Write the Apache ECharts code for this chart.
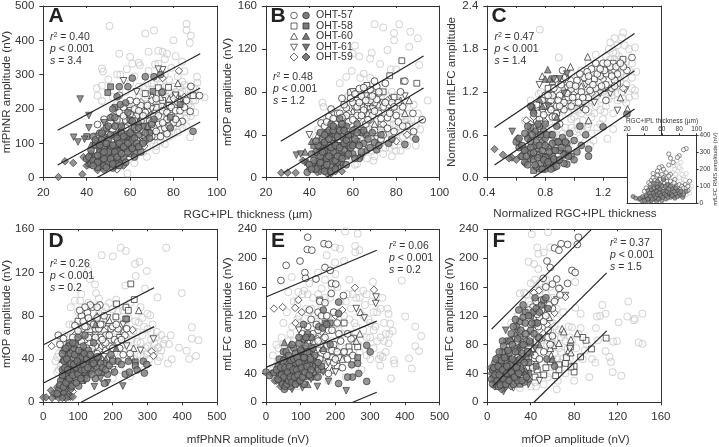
<!DOCTYPE html>
<html><head><meta charset="utf-8"><style>html,body{margin:0;padding:0;background:#fff}#c{width:719px;height:447px}</style>
<script src="https://cdn.jsdelivr.net/npm/echarts@6/dist/echarts.min.js"></script></head><body><div id="c"></div>
<script>
// Panel A: RGC+IPL thickness vs mfPhNR amplitude
const A_grey=[[50.5,442],[86,448],[86,430],[88,414],[87.5,393],[67,420],[71,429],[80,400],[55,361],[60,352],[68.5,367],[73,370],[75,367],[77,361],[81,354],[47,318],[47.5,309],[50,286],[44.6,261],[47,268],[45,239],[47,224],[54,301],[55.5,300],[58.5,316],[61,332],[64,335],[64.5,328],[68.5,311],[71.5,330],[73,332],[76,345],[79,320],[84,338],[90.8,294],[91,277],[94.3,234],[87.7,118],[58.8,12.5],[62,43],[67.7,61],[57,75],[60,90],[63,70],[65,95],[68,88],[70,110],[72,92],[74,128],[76,115],[78,135],[80,150],[82,132],[84,165],[86,150],[88,180],[66,120],[64,140],[62,125],[60,150],[58,170],[56,190],[54,215],[52,235],[58,250],[60,275],[62,295],[64,265],[66,245],[68,275],[70,255],[72,290],[74,270],[76,300],[78,285],[80,265],[82,295],[84,280],[86,255],[88,240],[90,225],[89,260],[85,310],[83,245],[81,225],[79,245],[77,215],[75,235],[73,205],[71,225],[69,195],[67,215],[65,185],[63,200],[61,175],[59,205],[72,165],[74,175],[76,190],[78,165],[80,185],[82,205],[84,215],[70,150],[68,160],[66,170],[64,108],[62,100],[60,118],[86,200],[88,205],[90,190]];
const A_greyX=[[55,120],[57,140],[59,130],[61,95],[63,150],[65,130],[67,140],[69,115],[71,140],[73,118],[75,155],[77,140],[79,170],[81,170],[83,180],[85,190],[87,215],[89,225],[91,240],[62,220],[64,235],[66,265],[68,240],[70,275],[72,250],[74,255],[76,265],[78,250],[80,240],[82,225],[84,250],[86,230],[88,250],[90,260],[77,235],[79,225],[81,250],[83,265],[85,270],[75,210],[73,225],[71,200],[69,215],[67,190],[65,160],[63,170],[61,200],[59,150],[57,110],[55,95],[53,70],[52,105],[56,80],[60,60],[66,75],[70,125],[74,105],[78,120],[82,150],[86,175],[84,145],[80,128],[76,98],[72,80]];
const A_co=[[92,239],[88,266],[87.7,193],[84,164],[82,159],[77,128],[71.5,120],[60,225],[57,205],[55,190],[52,178],[48,170],[45,155],[54,148],[58,168],[61,150],[63,180],[65,210],[67,165],[69,140],[71,180],[73,155],[75,195],[77,170],[79,205],[62,130],[58,130],[56,115],[60,105],[64,120],[66,135],[52,140],[50,125],[80,160],[74,140],[76,145],[58,70],[63,222],[55,240],[62,200],[68,128],[81,195],[59,150],[61,175],[63,140],[65,165],[67,190],[69,165],[71,145],[73,180],[75,160],[77,190],[79,180],[81,170],[83,195],[85,205],[66,105],[68,150],[70,120],[72,135],[60,185],[56,135],[53,120],[51,160],[57,180],[63,110],[78,150],[74,120],[70,160],[64,195],[82,220],[86,225],[75,250],[72,230],[68,210],[66,180],[58,145],[54,100],[62,165]];
const A_so=[[89,239],[83.5,215],[77.7,263],[81,239],[75,225],[72,205],[67,245],[70,180],[64,160],[78,210],[50,100],[54,170],[60,165],[73,262]];
const A_to=[[82,275],[78,230],[74,235],[70,240],[66,200],[62,185],[57,150],[83,230],[76,205],[68,170],[61,135],[52,155]];
const A_vo=[[57,282],[75,314],[73,316],[81,240],[70,200],[65,180],[60,195],[55,145],[48,135],[72,175],[45,120],[63,250]];
const A_do=[[82.5,311],[66.6,92],[54,24],[75,290],[70,225],[65,220],[58,160],[52,110],[60,140],[68,195],[80,230],[48,100],[56,55],[85,235]];
const A_cf=[[61,290],[67,294],[71,294],[74,300],[55,265],[59,265],[54,236],[55.5,213],[89,135],[78.5,145],[74.6,248],[40,55],[42,40],[44,62],[45,30],[46,75],[47,50],[48,90],[48,35],[49,65],[50,112],[50,45],[51,82],[52,28],[52,60],[53,95],[53,125],[54,40],[55,75],[56,105],[56,150],[57,58],[58,85],[58,125],[59,190],[60,70],[61,110],[62,145],[63,90],[64,125],[65,75],[67,108],[69,130],[71,170],[47,110],[44,95],[46,130],[42,80],[51,175],[52,200],[49,145],[58,218],[43,120],[60,168],[41,60],[43,50],[44,110],[45,45],[46,95],[47,70],[47,130],[48,55],[49,100],[49,30],[50,75],[51,55],[51,125],[52,95],[52,40],[53,75],[53,150],[54,60],[54,115],[55,35],[55,100],[56,70],[56,130],[57,90],[57,120],[58,45],[59,100],[59,75],[60,130],[61,85],[61,165],[62,60],[62,115],[63,100],[64,90],[64,145],[66,100],[67,130],[69,115],[70,155],[45,65],[48,75],[43,35],[50,150],[53,175]];
const A_sf=[[49.7,248],[51,265],[70.5,251],[78.5,176],[40,120],[44,105],[48,118],[52,72],[55,90],[50,60],[46,40],[58,105],[62,72],[66,150],[53,205],[83,213],[45,100],[47,88],[50,88],[52,85],[55,55],[56,88],[59,120],[61,125],[48,50],[54,80],[42,58],[44,48]];
const A_tf=[[42,95],[60,95],[55,135],[50,92],[64,165],[46,60],[53,55],[68,150]];
const A_vf=[[37,229],[41,181],[41,145],[34,118],[36,104],[39,112],[48,160],[52,45],[45,85]];
const A_df=[[27,2],[30,48],[33.8,43],[38,10],[40,35],[38.5,60],[42,70],[44,40],[45,22],[47,30],[41,48],[50,35],[55,120],[49,80],[43,55],[46,50],[48,22],[51,40],[53,32],[55,45],[57,35],[41,38],[60,85]];
const A_lines=[[[26.6,138],[92.3,361]],[[26.6,37],[92.3,261]],[[44.6,0],[92.3,162]]];
// Panel B: RGC+IPL thickness vs mfOP amplitude
const B_grey=[[70,143],[74,140],[81.4,143],[79,135],[86.5,136],[79,128],[90,130],[61,123],[60,115.6],[63,113],[68.7,116.5],[68,111],[76,119],[86,122],[72.6,106],[90.6,105],[77.5,101],[80,101],[59.5,99.6],[57,94],[54,88],[65,97],[63.4,93],[68,93],[46,70],[46.5,66],[94.5,72],[69.5,16],[66.5,18],[61,12],[62,13],[44,45],[43,38],[42,33],[46,50],[48,55],[50,30],[52,42],[54,50],[55,62],[57,22],[58,35],[59,48],[60,58],[61,68],[62,28],[63,40],[64,52],[65,72],[66,34],[67,46],[68,60],[69,25],[70,40],[71,52],[72,65],[73,32],[74,44],[75,56],[76,76],[77,28],[78,38],[79,50],[80,62],[81,34],[82,45],[83,57],[84,70],[85,30],[86,42],[87,54],[88,38],[89,48],[90,60],[91,45],[56,70],[58,76],[62,78],[66,82],[70,80],[74,84],[78,80],[82,78],[70,32],[74,22],[78,20],[82,25],[65,24],[55,30],[51,20],[49,40],[47,30],[52,60],[58,62],[60,18],[64,62],[68,45],[72,38],[76,45],[80,42],[84,52],[86,60],[88,68],[75,36],[63,50],[67,30],[60,42],[56,40]];
const B_greyX=[[50,25],[53,35],[55,45],[57,55],[59,30],[61,25],[63,30],[65,40],[67,55],[69,48],[71,30],[73,48],[75,42],[77,50],[79,30],[81,48],[83,38],[85,55],[87,40],[89,30],[62,62],[66,58],[70,68],[74,60],[78,55],[82,62],[86,50],[80,25],[75,28],[70,20],[64,20],[58,18],[54,24],[48,24],[46,42],[44,30],[72,45],[76,62],[69,72],[73,74],[66,66],[60,50],[68,36],[84,44],[77,68],[80,72],[63,66],[56,54]];
const B_co=[[92,54],[87.7,60],[88,43],[75,88],[71,85],[63,83],[55,74],[50,64],[45.4,51],[47,48],[49,57],[52,50],[53,60],[55,47],[57,65],[58,52],[60,70],[61,45],[62,58],[64,76],[65,63],[66,50],[67,70],[68,82],[69,58],[70,44],[71,73],[72,60],[73,36],[74,66],[76,56],[78,70],[79,43],[80,58],[82,80],[83,66],[84,90],[85,48],[68,72],[58,40],[51,44],[48,52],[51,55],[54,60],[56,68],[59,74],[61,78],[62,66],[65,84],[66,72],[67,54],[69,76],[70,62],[72,80],[73,55],[75,70],[76,46],[77,60],[79,66],[81,52],[57,58],[53,46],[63,70],[60,54],[65,42],[74,40],[81,70],[83,48],[70,90],[64,58],[55,56]];
const B_so=[[82.6,109],[89.5,88],[77,95],[66.5,86],[59,79.5],[64,66],[83.4,90],[70,78],[74,80],[79,75],[68,66],[62,72],[73,50]];
const B_to=[[84,60],[82,72],[77,74],[65,78],[72,68],[60,62],[56,56],[67,60],[86,72],[70,50],[44,40]];
const B_vo=[[40,40],[66,76],[60,80],[74,70],[78,62],[64,44],[56,36],[71,36],[48,42],[84,76],[69,64]];
const B_do=[[46,38],[58,60],[63,56],[68,54],[74,50],[80,34],[52,32],[61,66],[76,72],[85,40],[72,78]];
const B_cf=[[89,36],[84,31],[76.5,32],[71,26],[39,5],[42,16],[43,24],[44,10],[45,20],[45,30],[46,36],[46,14],[47,6],[47,25],[48,42],[48,18],[49,30],[50,10],[50,50],[51,24],[51,38],[52,16],[53,45],[53,30],[54,55],[54,20],[55,38],[56,26],[57,48],[57,12],[58,30],[60,22],[61,36],[62,50],[63,18],[65,32],[66,40],[68,28],[73,40],[78,36],[70,33],[64,42],[55,50],[49,44],[41,22],[52,40],[43,8],[44,30],[45,14],[46,24],[47,33],[48,12],[49,20],[49,36],[50,28],[50,6],[51,44],[52,30],[52,8],[53,20],[53,38],[54,28],[54,44],[55,18],[56,32],[56,44],[57,35],[58,22],[58,40],[59,28],[60,30],[60,44],[61,18],[62,42],[63,30],[64,24],[65,44],[67,36],[69,42],[72,30],[45,42],[43,34],[40,12],[41,8],[47,40],[51,48]];
const B_sf=[[44,18],[46,8],[48,28],[50,40],[52,24],[54,14],[55,30],[57,20],[59,40],[42,30],[47,15],[62,34],[45,25],[48,8],[49,24],[51,32],[53,10],[55,22],[56,46],[58,36],[46,30],[50,18]];
const B_tf=[[38,24],[41,34],[48,36],[52,12],[56,34],[60,32],[44,26],[66,26]];
const B_vf=[[34,21],[36,22],[38,14],[64,19],[43,12],[47,20],[50,16],[55,12],[58,26]];
const B_df=[[27,4.6],[30,4.6],[33.7,4.6],[39.5,13],[43.7,5],[48,4],[46,10],[42,8],[37,16],[49,8],[51,14],[44,12],[45,6],[47,10],[50,4],[52,6],[53,14],[42,14],[40,8],[55,6],[46,18]];
const B_lines=[[[26.8,34],[92.6,113.5]],[[28,4.6],[92.6,83.5]],[[47.7,0],[92.6,55]]];
// Panel C: normalized thickness vs normalized mfLFC
const C_grey=[[.763,2.07],[.894,1.68],[1.34,2.03],[1.33,1.96],[1.25,1.89],[1.42,1.82],[.70,1.08],[1.135,.52],[1.11,.45],[1.23,.545],[1.27,.68],[1.42,1.22],[1.42,1.15],[.756,1.17],[.77,1.2],[1.29,1.74],[1.27,1.75],[1.31,1.7],[1.35,1.85],[1.38,1.8],[1.4,1.6],[1.43,1.48],[1.4,1.4],[1.36,1.3],[1.32,1.45],[1.3,1.55],[1.25,1.65],[1.22,1.7],[1.2,1.5],[1.18,1.35],[1.16,1.55],[1.13,1.4],[1.1,1.2],[1.08,1.05],[1.05,.9],[1.02,.78],[1.0,.65],[.97,.5],[.95,.4],[.92,.3],[.9,.45],[.88,.6],[.85,.7],[.82,.52],[.8,.36],[1.0,.95],[1.03,1.15],[1.06,1.32],[1.09,.7],[1.12,.85],[1.15,1.0],[1.18,.75],[1.21,.92],[1.24,1.1],[1.27,.9],[1.3,1.08],[1.33,1.2],[1.36,1.05],[1.2,1.2],[1.25,1.3],[1.28,1.4],[1.15,1.2],[1.12,1.08],[1.1,.92],[1.06,.65],[1.04,.55],[.94,.7],[.98,.82],[.9,.85],[.85,.95],[.82,1.05],[.78,.85],[.75,.95],[.72,1.0],[.92,1.2],[.95,1.35],[.88,1.3],[.98,1.45],[1.0,1.3],[1.05,1.5],[1.1,1.6],[1.15,1.72],[.68,.7],[.66,.8]];
const C_greyX=[[1.0,1.0],[1.03,.95],[1.07,1.1],[1.1,1.05],[1.13,1.2],[1.16,1.15],[1.19,1.1],[1.22,1.22],[1.26,1.15],[1.29,1.28],[1.32,1.35],[1.35,1.4],[1.38,1.5],[1.36,1.62],[1.32,1.62],[1.28,1.65],[1.24,1.8],[1.3,1.85],[1.28,1.95],[1.26,1.2],[1.3,1.18],[1.34,1.1],[1.38,1.12],[1.4,1.25],[1.22,1.0],[1.18,.95],[1.14,.9],[1.1,.75],[1.06,.8],[1.03,.68],[.98,.7],[.95,.6],[.92,.62],[.9,.55],[.88,.4],[.86,.6],[.84,.45],[.83,.75],[.8,.7],[.78,.6],[.76,.7],[.74,.58],[1.08,1.25],[1.12,1.35],[1.16,1.42],[1.2,1.42],[1.24,1.45],[1.27,1.5],[1.05,.72],[1.0,.85],[.96,.9],[1.12,.62],[1.16,.7],[1.2,.82]];
const C_co=[[1.4,1.68],[1.365,1.5],[1.3,1.45],[1.28,1.36],[1.25,1.55],[1.22,1.3],[1.2,1.6],[1.18,1.42],[1.15,1.25],[1.12,1.52],[1.1,1.35],[1.07,1.4],[1.05,1.2],[1.02,1.36],[1.0,1.05],[.98,1.24],[.96,1.12],[.94,1.4],[.93,.95],[.9,1.15],[.88,1.0],[.86,1.25],[.84,1.08],[.82,.92],[.8,1.15],[.78,.95],[.76,.82],[.74,1.02],[.72,.7],[.85,.85],[.9,.75],[1.08,.95],[1.22,1.08],[1.26,1.25],[1.34,1.55],[.92,1.5],[.87,1.38],[1.15,1.6],[.75,.9],[.78,1.08],[.8,1.0],[.83,.98],[.85,1.15],[.87,.85],[.89,1.08],[.91,1.3],[.93,1.05],[.95,1.18],[.97,1.3],[.99,1.12],[1.01,1.28],[1.03,1.05],[1.04,1.45],[1.06,1.12],[1.09,1.48],[1.11,1.22],[1.13,1.3],[1.16,1.45],[1.19,1.28],[1.21,1.5],[1.23,1.6],[1.26,1.42],[1.29,1.55],[1.32,1.6],[.79,.88],[.84,.95],[.9,1.0],[.98,1.0],[.82,1.15],[.77,.75],[1.1,1.42],[1.18,1.52],[1.28,1.28]];
const C_so=[[1.338,1.655],[1.27,1.6],[1.22,1.45],[1.1,1.12],[1.0,1.2],[.95,1.0],[.88,.9],[.82,1.25],[.74,.8],[1.3,1.32],[1.14,1.38],[.7,.6]];
const C_to=[[1.094,1.69],[.975,1.55],[1.37,.96],[.92,1.38],[1.05,1.28],[.85,1.35],[.78,1.42],[1.2,1.25],[1.1,.8],[1.32,1.12],[.8,1.06]];
const C_vo=[[1.354,1.225],[1.3,.94],[1.18,1.18],[1.08,1.3],[.95,1.25],[.84,1.15],[1.05,.98],[.76,1.3],[1.25,1.18],[.9,.95],[1.14,1.05]];
const C_do=[[.67,.8],[.72,.85],[.98,1.36],[1.02,1.22],[1.12,1.18],[1.28,1.5],[.86,1.1],[.94,1.1],[.8,.78],[1.2,1.38],[1.34,1.25],[.7,.75]];
const C_cf=[[.95,.19],[1.2,.71],[1.365,.89],[.6,.5],[.62,.42],[.64,.3],[.66,.22],[.68,.55],[.7,.35],[.7,.5],[.72,.25],[.73,.45],[.74,.15],[.75,.6],[.76,.32],[.77,.2],[.78,.5],[.79,.65],[.8,.28],[.8,.12],[.82,.42],[.83,.18],[.84,.6],[.85,.3],[.86,.14],[.87,.5],[.88,.72],[.89,.24],[.9,.38],[.92,.56],[.93,.2],[.95,.48],[.97,.62],[.98,.3],[1.0,.25],[1.04,.72],[1.08,.6],[1.1,.4],[.7,1.0],[.72,.9],[.76,.72],[.73,.65],[.66,.62],[.8,.55],[1.05,.45],[1.0,.52],[.62,.55],[.64,.45],[.66,.38],[.67,.3],[.68,.18],[.7,.42],[.71,.6],[.72,.35],[.73,.18],[.74,.5],[.75,.28],[.76,.45],[.77,.6],[.78,.38],[.78,.12],[.79,.25],[.8,.45],[.81,.6],[.82,.22],[.83,.36],[.84,.12],[.85,.48],[.86,.26],[.87,.38],[.88,.16],[.89,.5],[.9,.25],[.91,.42],[.93,.32],[.94,.5],[.96,.3],[.75,.75],[.7,.7],[.68,.72],[.8,.75],[.85,.6],[.96,.4],[1.02,.36],[1.1,.3]];
const C_sf=[[.71,.98],[.75,.4],[.78,.3],[.82,.3],[.84,.22],[.68,.4],[.86,.38],[.9,.5],[.72,.1],[.94,.34],[.76,.12]];
const C_tf=[[.818,1.51],[.8,1.38],[.83,1.38],[.72,.95],[.68,.6],[.76,1.1],[.88,.85],[.78,1.0]];
const C_vf=[[.572,.647],[.86,1.38],[.9,1.38],[.82,1.0],[.7,.28],[.8,.18],[.93,1.18],[.95,1.45],[.65,.35]];
const C_df=[[.45,.4],[.508,.32],[.57,.28],[.6,.25],[.63,.3],[.55,.27],[.66,.2],[.61,.55],[.72,.3],[.69,.26],[.62,.48]];
const C_lines=[[[.45,.70],[1.418,2.016]],[[.45,.176],[1.418,1.494]],[[.715,0],[1.418,.96]]];
// Panel D: mfPhNR vs mfOP
const D_grey=[[354,143],[223,143],[238,140],[168,136],[200,135],[264,128],[277,130],[298,121.5],[266,117],[130,122],[135,114],[149,109],[152,101],[399,101],[329,97],[236,108],[293,105],[79,88],[91,94],[106,94],[109,100],[428,69.5],[428,59],[447,57.5],[391,50.5],[413,47.7],[440,43],[420,40],[370,40],[359,36],[367,62],[362,54],[346,54],[332,51],[327,65],[308,80.6],[35,38],[40,28],[45,45],[50,34],[55,50],[60,22],[65,42],[70,60],[75,30],[80,52],[85,72],[90,20],[95,40],[100,62],[105,78],[110,28],[115,50],[120,68],[125,86],[130,36],[135,56],[140,76],[145,24],[150,44],[155,64],[160,82],[165,30],[170,50],[175,70],[180,88],[185,36],[190,58],[195,76],[200,22],[205,46],[210,66],[215,84],[220,30],[225,52],[230,72],[235,40],[240,60],[245,78],[250,24],[255,46],[260,66],[265,34],[270,56],[275,74],[280,44],[285,62],[290,30],[295,50],[300,68],[305,40],[310,58],[315,72],[320,48],[325,60],[330,38],[335,42],[340,62],[300,82],[280,88],[250,92],[210,95],[190,92],[160,96],[130,92],[120,82],[100,84],[75,72],[60,62],[48,55]];
const D_greyX=[[40,42],[50,55],[60,40],[70,48],[80,30],[90,45],[100,35],[110,58],[120,30],[130,55],[140,30],[150,56],[160,35],[170,65],[180,40],[190,70],[200,52],[210,38],[220,62],[230,48],[240,70],[250,50],[260,40],[270,65],[280,55],[290,70],[300,52],[310,65],[320,55],[330,50],[340,48],[350,58],[300,45],[290,42],[255,58],[215,75],[180,78],[145,70],[115,60],[95,52],[85,62],[65,50],[55,36],[60,30],[45,30],[75,42],[85,22],[100,22],[120,45],[140,65],[170,84],[200,86],[230,85],[265,75],[285,78]];
const D_co=[[43,62],[58,59],[48,53.5],[91,71],[163,90],[142,88],[127,83],[110,80],[125,70],[140,60],[155,78],[170,72],[180,62],[195,68],[205,58],[220,50],[235,62],[250,45],[120,58],[105,52],[95,58],[85,48],[130,45],[150,52],[165,40],[180,48],[200,40],[215,68],[112,68],[135,75],[150,68],[165,60],[190,52],[230,44],[75,52],[145,40],[120,42],[85,60],[100,66],[115,75],[130,78],[145,72],[160,68],[175,80],[190,62],[200,70],[215,56],[225,58],[240,68],[130,60],[110,56],[95,48],[120,70],[150,60],[165,72],[180,55],[200,50],[140,50],[125,50],[105,42],[155,45],[170,58],[210,72],[135,90],[155,88],[120,88],[105,85]];
const D_so=[[252,109.5],[262,95],[211,91],[238,88],[245,85],[209,79],[237,77],[75,52],[100,75],[135,62],[180,68],[220,60]];
const D_to=[[275,85],[155,80],[230,66],[260,50],[105,68],[190,76],[140,48],[165,52],[255,42]];
const D_vo=[[317,58.5],[280,48],[230,72],[185,78],[150,62],[175,42],[120,48],[200,30],[145,30],[240,52]];
const D_do=[[257,67],[312,47],[317,43],[24,52],[175,66],[210,55],[125,38],[160,48],[90,62],[70,28],[60,15],[85,10]];
const D_cf=[[291,27],[288,38],[236,26],[248,28],[298,35],[176,17.5],[50,20],[55,30],[60,38],[65,25],[70,45],[72,18],[75,35],[80,28],[85,40],[88,50],[92,22],[95,32],[100,42],[102,15],[105,25],[110,38],[115,52],[118,28],[122,35],[125,22],[130,48],[135,30],[140,40],[145,55],[150,22],[155,32],[160,42],[168,28],[175,36],[185,26],[195,44],[205,28],[215,38],[60,48],[45,12],[75,55],[100,60],[120,62],[165,36],[40,8],[48,16],[55,25],[58,14],[62,32],[65,18],[68,40],[70,30],[72,52],[75,22],[78,45],[80,36],[82,15],[85,25],[88,35],[90,44],[92,54],[95,18],[98,38],[100,26],[102,48],[105,34],[108,22],[110,30],[112,42],[115,35],[118,45],[120,30],[125,40],[128,32],[135,44],[140,26],[145,36],[155,42],[160,28],[170,32],[180,30],[190,34],[200,38],[225,35],[245,38],[270,30],[55,45],[65,50],[85,55]];
const D_sf=[[265,37.5],[265,34],[240,77],[55,22],[68,35],[80,20],[98,28],[112,20],[130,28],[150,38],[85,30],[110,46],[60,28],[75,30],[90,28],[100,36],[110,26],[125,26],[140,34],[78,14],[62,10]];
const D_tf=[[70,42],[68,48],[92,46],[125,44],[180,40],[55,40],[210,50],[150,72]];
const D_vf=[[229,15],[147,14.5],[70,15],[62,24],[90,35],[108,32],[165,22],[185,18],[120,20]];
const D_df=[[0,4.6],[8,4.6],[22,11],[35,6],[45,4],[50,8],[60,5],[70,8],[78,5],[40,14],[30,8],[65,12],[55,14],[25,4],[42,8],[58,9],[72,5],[65,4],[85,5],[55,4],[48,12],[80,12]];
const D_lines=[[[2,53.5],[319,106]],[[2,18],[319,70]],[[109,0],[312,34.5]]];
// Panel E: mfPhNR vs mfLFC
const E_grey=[[228,237],[264,234],[391,169],[308,167],[401,119],[430,105],[447,92],[430,78],[441,71],[412,61],[420,47],[360,33],[368,58.6],[370,54],[353,82],[353,123],[365,99],[358,109],[336,63],[329,51],[74,174],[93,153],[64,153],[175,204],[199,215],[213,213],[199,194],[225,196],[257,217],[269,211],[257,208],[36,75],[20,65],[25,35],[30,80],[35,55],[40,30],[45,90],[50,110],[55,60],[60,125],[65,85],[70,40],[75,105],[80,140],[85,70],[90,22],[95,120],[100,90],[105,150],[110,55],[115,130],[120,100],[125,165],[130,75],[135,145],[140,40],[145,115],[150,180],[155,90],[160,135],[165,60],[170,170],[175,110],[180,30],[185,145],[190,85],[195,125],[200,50],[205,160],[210,100],[215,140],[220,70],[225,120],[230,35],[235,150],[240,95],[245,130],[250,60],[255,110],[260,145],[265,80],[270,125],[275,45],[280,100],[285,135],[290,65],[295,115],[300,90],[305,140],[310,75],[315,105],[320,125],[325,60],[330,90],[335,145],[340,110],[345,70],[350,130],[355,95],[330,130],[280,155],[240,170],[200,178],[160,158],[120,150],[90,115],[75,70],[300,110]];
const E_greyX=[[20,45],[30,50],[40,60],[50,30],[60,45],[70,65],[80,50],[90,80],[100,60],[110,100],[120,70],[130,110],[140,85],[150,60],[160,100],[170,85],[180,120],[190,110],[200,80],[210,125],[220,95],[230,75],[240,115],[250,85],[260,105],[270,70],[280,120],[290,90],[300,60],[310,100],[320,85],[330,65],[340,85],[345,95],[50,80],[70,95],[90,135],[110,155],[130,130],[150,150],[170,145],[190,160],[230,140],[250,150],[270,145],[290,150],[310,125],[60,70],[80,85],[100,110],[120,125],[140,120],[160,115],[180,80],[200,100],[220,110]];
const E_co=[[120,229],[167,220],[180,219],[119,212],[132,211],[58,190],[98,196],[112,180],[114,172],[144,171],[43,169],[170,187],[185,183],[189,165],[201,164],[188,151],[223,148],[155,140],[170,138],[125,128],[150,125],[195,125],[150,100],[165,88],[180,100],[195,80],[210,95],[225,70],[245,88],[175,65],[130,70],[130,115],[145,108],[160,120],[175,120],[190,100],[205,110],[215,85],[235,95],[165,72],[150,85],[135,95],[120,105],[105,95],[110,70],[125,62],[140,55],[155,60],[170,90],[190,72],[205,70],[220,48],[235,60],[250,65],[160,45],[180,40],[195,55],[145,35],[200,60]];
const E_so=[[252,89],[239,77],[264,77],[155,142],[225,110],[175,78],[190,62],[210,62],[145,62],[120,82],[205,50],[240,70]];
const E_to=[[272,125],[270,95],[110,88],[127,78],[260,85],[200,75],[170,62],[220,60],[145,48],[190,45],[125,50],[140,85]];
const E_vo=[[317,146],[316,137],[283,117],[260,130],[130,90],[180,55],[200,42],[95,100],[225,68],[150,72],[100,58]];
const E_do=[[256,159],[23,130],[48,132],[93,142],[84,131],[103,125],[311,156],[160,98],[148,88],[135,58],[170,50],[85,110],[220,128],[200,120]];
const E_cf=[[0,42],[10,37],[23,41],[50,70],[108,108],[209,123],[209,139],[165,128],[152,105],[163,103],[290,79],[300,70],[264,54],[247,52],[267,40],[249,35],[235,35],[209,26],[290,29],[53,18],[35,50],[40,38],[45,28],[50,45],[55,60],[60,32],[65,48],[70,22],[75,40],[80,75],[85,55],[90,30],[95,82],[100,45],[105,62],[110,25],[115,78],[120,38],[125,52],[130,90],[140,65],[150,35],[160,50],[175,108],[120,95],[185,80],[60,55],[30,45],[35,32],[38,60],[42,48],[45,38],[48,25],[50,58],[52,35],[55,22],[55,48],[58,70],[60,25],[62,42],[65,30],[65,65],[68,50],[70,35],[72,58],[75,28],[75,80],[78,45],[80,60],[82,35],[85,25],[85,68],[88,45],[90,62],[92,38],[95,55],[98,30],[100,72],[102,48],[105,35],[108,88],[110,62],[112,42],[115,90],[118,50],[120,70],[125,38],[128,60],[130,45],[135,75],[150,55],[95,90]];
const E_sf=[[185,110],[264,62],[170,110],[100,70],[75,60],[110,48],[130,35],[145,55],[90,50],[55,40],[115,60],[80,30],[125,70],[70,55],[85,42],[95,45],[105,55],[120,45],[135,50],[60,35],[110,35],[150,45],[65,40]];
const E_tf=[[53,83],[95,35],[120,25],[140,42],[70,80],[105,75],[40,50],[165,75]];
const E_vf=[[231,16],[148,22],[180,29],[75,18],[105,20],[60,38],[130,32],[165,42],[90,25]];
const E_df=[[30,30],[42,22],[55,28],[68,30],[100,30],[120,55],[15,40],[82,42],[35,38],[48,32],[60,30],[72,40],[88,30],[110,50],[25,30],[45,45],[135,60]];
const E_lines=[[[0,146],[319,211]],[[0,48.5],[319,112.6]],[[250,0],[319,14]]];
// Panel F: mfOP vs mfLFC
const F_grey=[[41,233],[56,236],[46,215],[47,206],[52,208],[58,215],[38,195],[47,185],[43,192],[81,167],[30,151],[34,152],[130,140],[106,135],[109,123],[101,119],[104,120],[143,123],[136,116],[135,114],[129,119],[121,111],[100,103],[139.5,83],[143,81],[119.5,85],[116,84],[109,71],[112.5,63],[114,56],[115.6,42],[123.5,37],[96.5,60],[99.6,55],[94,35],[86,123],[81,131],[86,103],[78,104],[102,86],[64,18],[15,40],[18,60],[20,85],[22,30],[24,105],[26,50],[28,72],[30,20],[32,95],[34,120],[36,42],[38,65],[40,135],[42,88],[44,28],[46,110],[48,155],[50,55],[52,78],[54,130],[56,35],[58,100],[60,145],[62,68],[64,115],[66,50],[68,90],[70,125],[72,40],[74,75],[76,60],[78,85],[80,30],[44,170],[48,165],[36,125],[30,110],[24,78],[50,120],[55,80],[60,60],[65,30],[70,95],[75,105],[58,72],[62,88],[66,75],[52,25],[46,40],[40,22],[34,75],[28,42],[20,48],[92,80],[88,60],[82,75],[84,95],[90,72],[54,150],[42,150],[38,140],[60,110]];
const F_greyX=[[12,30],[16,55],[18,28],[20,70],[22,110],[24,45],[26,88],[28,55],[30,95],[32,35],[34,55],[36,105],[38,85],[40,50],[42,110],[44,75],[46,95],[48,60],[50,105],[52,135],[54,65],[56,115],[58,40],[60,90],[62,105],[64,60],[66,100],[68,70],[70,60],[72,85],[74,55],[76,90],[40,165],[44,155],[50,165],[54,170],[58,160],[36,150],[32,130],[28,120],[48,135],[56,145],[64,130],[35,35],[45,22],[38,30],[30,58],[25,62],[42,60],[52,95],[60,80],[56,60],[68,55],[64,45]];
const F_co=[[84,229],[83,219],[74,219],[68,220],[62,214],[66,211],[55,196],[58,187],[78,183],[81,180],[64,171],[74,165],[51.5,172],[60,164],[67,149],[45,140],[42,132],[38,128],[48,118],[52,112],[56,100],[40,90],[34,80],[44,65],[58,80],[28,62],[36,48],[52,70],[60,130],[50,142],[46,122],[50,128],[54,120],[57,135],[44,108],[48,88],[40,108],[36,95],[32,72],[38,70],[30,50],[48,60],[42,48],[26,35],[34,42],[56,90],[60,92],[62,140],[66,158],[54,160],[47,105],[28,85],[22,40],[18,48],[35,55]];
const F_so=[[109.5,89],[96,74],[91,86],[88,90],[86,63],[80,42],[80,50],[77,49],[76.6,77],[73,62],[72,54],[66,52],[63,37],[52,38],[44,35],[66,45],[58,56],[46,45],[54,48],[38,60]];
const F_to=[[83,95.5],[69,102],[70.5,98],[77,87],[66,82],[61,79],[58,75],[59,65],[75,72],[77,69],[50,90],[42,75],[32,50],[57,118]];
const F_vo=[[72,148],[64,142],[50,140],[46,128],[44,52],[30,38],[48,30],[38,42],[76,74],[55,130],[24,20]];
const F_do=[[47.5,155],[43,152],[67,158],[72,146],[55,108],[48,100],[62,124],[35,70],[40,55],[20,45],[30,75],[52,118]];
const F_cf=[[5,45],[6,35],[7,55],[8,28],[9,42],[10,62],[10,22],[12,50],[13,35],[14,70],[15,25],[16,45],[17,58],[18,85],[19,32],[20,68],[21,52],[22,95],[23,40],[24,25],[25,75],[26,58],[27,105],[28,30],[30,90],[31,45],[32,68],[33,118],[34,28],[36,85],[38,55],[40,100],[42,125],[44,145],[46,110],[50,135],[52,142],[54,145],[56,130],[47,90],[35,110],[29,128],[33,135],[14,85],[55,60],[62,50],[4,32],[5,25],[6,48],[7,38],[8,60],[9,30],[10,50],[11,38],[11,70],[12,24],[13,58],[14,45],[15,32],[15,78],[16,62],[17,25],[18,50],[18,40],[19,72],[20,30],[21,85],[22,42],[23,60],[24,105],[25,35],[26,70],[27,48],[28,88],[29,40],[30,60],[31,100],[32,30],[33,80],[34,55],[35,95],[36,35],[37,70],[39,85],[41,110],[43,95],[45,130],[48,125],[38,120],[26,115],[23,80]];
const F_sf=[[12,40],[17,35],[22,50],[28,70],[30,25],[38,40],[30,112],[40,120],[26,42],[20,60],[35,125],[45,50],[8,40],[11,55],[14,35],[18,62],[20,42],[24,55],[28,50],[32,42],[36,60],[40,82],[16,48],[44,110]];
const F_tf=[[22,88],[30,80],[26,95],[48,80],[60,60],[40,70],[14,55],[35,45]];
const F_vf=[[17,100],[14,22],[15,15],[25,30],[32,58],[44,75],[20,28],[38,25],[10,30]];
const F_df=[[4,40],[6,30],[9,50],[12,28],[16,20],[20,38],[25,48],[30,55],[35,38],[18,72],[28,100],[3,48],[7,22],[11,32],[14,62],[18,30],[22,22],[27,34],[32,78],[38,32],[13,18]];
const F_lines=[[[4,101.5],[96,240]],[[5,22],[110,179.5]],[[43,0],[110,99]]];
// Inset: thickness vs mfLFC RMS amplitude
const I_grey=[[74,220],[78,190],[82,200],[85,160],[88,175],[80,150],[76,170],[72,130],[84,120],[90,95],[94,100],[86,80],[78,60],[70,50],[88,50],[92,60],[75,85],[68,80],[82,240],[77,250],[72,180],[75,200],[78,220],[80,210],[83,170],[85,140],[87,135],[90,120],[92,85],[80,90],[75,115],[82,55],[70,140],[68,120]];
const I_open=[[88,322],[85,315],[68,290],[80,280],[70,265],[78,270],[73,240],[68,225],[60,215],[57,210],[55,190],[62,200],[65,180],[50,175],[53,150],[58,160],[48,135],[45,120],[42,90],[60,130],[65,150],[70,170],[75,140],[52,115],[57,105],[62,90],[67,110],[72,95],[77,105],[82,85],[87,110],[92,130],[90,75],[85,60],[80,70],[72,65],[65,70],[55,75],[50,85],[40,70],[55,165],[58,140],[60,170],[62,150],[63,120],[66,130],[68,160],[70,130],[72,110],[74,120],[76,85],[78,100],[80,110],[83,100],[85,90],[88,90],[90,100],[60,105],[55,110],[50,150],[47,110],[52,135]];
const I_dark=[[27,40],[30,30],[34,25],[37,15],[40,35],[42,20],[44,50],[45,10],[46,30],[48,60],[48,15],[50,40],[52,70],[52,25],[54,100],[54,12],[56,50],[57,80],[58,30],[60,60],[60,15],[62,45],[64,75],[65,25],[66,110],[68,50],[70,35],[72,85],[74,40],[76,55],[78,75],[80,45],[84,35],[88,70],[44,75],[47,95],[50,120],[55,130],[58,110],[62,140],[35,30],[38,40],[40,15],[42,45],[44,25],[46,60],[47,40],[48,80],[49,25],[50,60],[51,90],[52,45],[53,35],[54,70],[55,50],[55,95],[56,25],[57,60],[58,85],[59,45],[60,100],[61,35],[62,70],[63,55],[64,100],[65,45],[66,70],[67,35],[68,85],[69,60],[70,100],[71,55],[72,45],[74,70],[75,30],[76,90],[78,40],[80,60],[82,70],[85,50]];
// Legend and statistics text
const legendLabels=['OHT-57','OHT-58','OHT-60','OHT-61','OHT-59'];
const panelLetters=['A','B','C','D','E','F'];
const r2Values=['0.40','0.48','0.47','0.26','0.06','0.37'];
const sValues=['3.4','1.2','1.4','0.2','0.2','1.5'];
const pText='< 0.001';

const font='"Liberation Sans",Arial,sans-serif', ink='#333';
const shapeOf=[['circle',0,6.8],['rect',0,5.8],['triangle',0,6.6],['triangle',180,6.6],['diamond',0,7.4]];
const greyStyle={color:'rgba(0,0,0,0)',borderColor:'#cbcbcb',borderWidth:1};
const openStyle={color:'#fff',borderColor:'#262626',borderWidth:.9};
const fillStyle={color:'#7b7b7b',borderColor:'#2e2e2e',borderWidth:.8};

const panels=[
 {box:[43.3,4.7],xr:[20,100,20],yr:[0,500,100],grey:A_grey.concat(A_greyX),open:[A_so,A_to,A_vo,A_do,A_co],fill:[A_sf,A_tf,A_vf,A_df,A_cf],lines:A_lines},
 {box:[266,4.7],xr:[20,100,20],yr:[0,160,40],grey:B_grey.concat(B_greyX),open:[B_so,B_to,B_vo,B_do,B_co],fill:[B_sf,B_tf,B_vf,B_df,B_cf],lines:B_lines},
 {box:[487.3,4.7],xr:[.4,1.6,.2],yr:[0,2.4,.6],grey:C_grey.concat(C_greyX),open:[C_so,C_to,C_vo,C_do,C_co],fill:[C_sf,C_tf,C_vf,C_df,C_cf],lines:C_lines},
 {box:[43.3,229.3],xr:[0,500,100],yr:[0,160,40],grey:D_grey.concat(D_greyX),open:[D_so,D_to,D_vo,D_do,D_co],fill:[D_sf,D_tf,D_vf,D_df,D_cf],lines:D_lines},
 {box:[266,229.3],xr:[0,500,100],yr:[0,240,40],grey:E_grey.concat(E_greyX),open:[E_so,E_to,E_vo,E_do,E_co],fill:[E_sf,E_tf,E_vf,E_df,E_cf],lines:E_lines},
 {box:[487.3,229.3],xr:[0,160,40],yr:[0,240,40],grey:F_grey.concat(F_greyX),open:[F_so,F_to,F_vo,F_do,F_co],fill:[F_sf,F_tf,F_vf,F_df,F_cf],lines:F_lines}
];
const shapeSeq=[1,2,3,4,0];
const grid=[],xAxis=[],yAxis=[],series=[];
const lineOf={lineStyle:{color:'#333',width:1}};
function scat(data,gi,style,shape,z,size){
 series.push({type:'scatter',xAxisIndex:gi*2,yAxisIndex:gi*2,data,symbol:shape[0],symbolRotate:shape[1],symbolSize:size||shape[2],itemStyle:style,z,silent:true,animation:false,emphasis:{disabled:true}});
}
panels.forEach((p,i)=>{
 grid.push({left:p.box[0],top:p.box[1],width:173.6,height:173,containLabel:false,z:0});
 const isC=i===2;
 const xFmt=isC?(v=>(['0.4','0.8','1.2'].includes(v.toFixed(1))?v.toFixed(1):'')):(v=>String(v));
 const yFmt=isC?(v=>v.toFixed(1)):(v=>String(v));
 xAxis.push({type:'value',gridIndex:i,min:p.xr[0],max:p.xr[1],interval:p.xr[2],position:'bottom',splitLine:{show:false},axisLine:{show:true,onZero:false,...lineOf},axisTick:{show:true,inside:false,length:3,...lineOf},axisLabel:{show:true,margin:9,fontSize:11.5,color:ink,fontFamily:font,formatter:xFmt,hideOverlap:false,showMinLabel:true,showMaxLabel:true}});
 xAxis.push({type:'value',gridIndex:i,min:p.xr[0],max:p.xr[1],interval:p.xr[2],position:'top',splitLine:{show:false},axisLine:{show:true,onZero:false,...lineOf},axisTick:{show:true,inside:true,length:2,...lineOf},axisLabel:{show:false}});
 yAxis.push({type:'value',gridIndex:i,min:p.yr[0],max:p.yr[1],interval:p.yr[2],position:'left',splitLine:{show:false},axisLine:{show:true,onZero:false,...lineOf},axisTick:{show:true,inside:false,length:4,...lineOf},axisLabel:{show:true,margin:9,fontSize:11.5,color:ink,fontFamily:font,formatter:yFmt,hideOverlap:false,showMinLabel:true,showMaxLabel:true}});
 yAxis.push({type:'value',gridIndex:i,min:p.yr[0],max:p.yr[1],interval:p.yr[2],position:'right',splitLine:{show:false},axisLine:{show:true,onZero:false,...lineOf},axisTick:{show:false},axisLabel:{show:false}});
 scat(p.grey,i,greyStyle,shapeOf[0],2);
 p.open.forEach((d,k)=>scat(d,i,openStyle,shapeOf[shapeSeq[k]],3));
 p.fill.forEach((d,k)=>scat(d,i,fillStyle,shapeOf[shapeSeq[k]],4));
 p.lines.forEach(l=>series.push({type:'line',xAxisIndex:i*2,yAxisIndex:i*2,data:l,symbol:'none',silent:true,animation:false,lineStyle:{color:'#222',width:1.2},z:5}));
});
// Inset grid (index 6)
const iw=69.6,ih=68;
grid.push({left:627,top:135.3,width:iw,height:ih,show:true,backgroundColor:'#fff',borderWidth:0,z:6});
const sm={fontSize:6.5,color:ink,fontFamily:font,margin:3};
xAxis.push({type:'value',gridIndex:6,min:20,max:100,interval:20,position:'top',z:7,splitLine:{show:false},axisLine:{show:true,onZero:false,...lineOf},axisTick:{show:true,inside:false,length:2,...lineOf},axisLabel:{...sm}});
xAxis.push({type:'value',gridIndex:6,min:20,max:100,interval:20,position:'bottom',z:7,splitLine:{show:false},axisLine:{show:true,onZero:false,...lineOf},axisTick:{show:false},axisLabel:{show:false}});
yAxis.push({type:'value',gridIndex:6,min:0,max:400,interval:100,position:'right',z:7,splitLine:{show:false},axisLine:{show:true,onZero:false,...lineOf},axisTick:{show:true,inside:false,length:2,...lineOf},axisLabel:{...sm}});
yAxis.push({type:'value',gridIndex:6,min:0,max:400,interval:100,position:'left',z:7,splitLine:{show:false},axisLine:{show:true,onZero:false,...lineOf},axisTick:{show:false},axisLabel:{show:false}});
scat(I_grey,6,{color:'#fff',borderColor:'#bdbdbd',borderWidth:.7},shapeOf[0],8,4.2);
scat(I_open,6,{color:'#fff',borderColor:'#333',borderWidth:.7},shapeOf[0],9,4.2);
scat(I_dark,6,{color:'#8a8a8a',borderColor:'#333',borderWidth:.6},shapeOf[0],10,4.2);

// Text
const g=[];
function txt(x,y,text,size,opt={}){
 g.push({type:'text',x,y,rotation:opt.rot||0,z:20,silent:true,style:{text,x:0,y:0,fill:opt.fill||ink,font:`${opt.weight||'normal'} ${size}px ${font}`,textAlign:opt.align||'center',textVerticalAlign:'middle',rich:opt.rich}});
}
const axisT=11.6;
txt(248,214.5,'RGC+IPL thickness (µm)',axisT);
txt(575,213.5,'Normalized RGC+IPL thickness',axisT);
txt(248,440,'mfPhNR amplitude (nV)',axisT);
txt(575.5,440,'mfOP amplitude (nV)',axisT);
const up=Math.PI/2;
txt(6.5,92,'mfPhNR amplitude (nV)',axisT,{rot:up});
txt(228,92,'mfOP amplitude (nV)',axisT,{rot:up});
txt(452,92,'Normalized mfLFC amplitude',axisT,{rot:up});
txt(6.5,314,'mfOP amplitude (nV)',axisT,{rot:up});
txt(228,314,'mfLFC amplitude (nV)',axisT,{rot:up});
txt(450,314,'mfLFC amplitude (nV)',axisT,{rot:up});
txt(662,121,'RGC+IPL thickness (µm)',6.5);
txt(715,169,'mfLFC RMS amplitude (nV)',6,{rot:up});
const letterPos=[[56,16],[278,16],[499,16],[56,241],[278,241],[499,241]];
panelLetters.forEach((l,i)=>txt(letterPos[i][0],letterPos[i][1],l,21,{weight:'bold',fill:'#222'}));
const statPos=[[50,37],[273,77],[494.5,37],[50,264],[389,246],[610,243]];
const rich={i:{fontStyle:'italic',fontSize:10.5,fontFamily:font,color:ink},n:{fontSize:10.5,fontFamily:font,color:ink},s:{fontSize:7,fontFamily:font,color:ink,verticalAlign:'top',lineHeight:9}};
panels.forEach((p,i)=>{
 const [x,y]=statPos[i];
 txt(x,y,`{i|r}{s|2}{n| = ${r2Values[i]}}`,10.5,{align:'left',rich});
 txt(x,y+12,`{i|p}{n| ${pText}}`,10.5,{align:'left',rich});
 txt(x,y+24,`{i|s}{n| = ${sValues[i]}}`,10.5,{align:'left',rich});
});
// Legend in panel B
const lgY=[15.5,26,36.5,47,57];
const lgShape=[['circle',3.3],['rect',3],['triangle',3.5],['vtri',3.5],['diamond',4]];
legendLabels.forEach((t,i)=>{
 txt(316,lgY[i],t,10.5,{align:'left'});
 [[294,'#fff','#444'],[306,'#7b7b7b','#333']].forEach(([x,f,b])=>{
  const [k,r]=lgShape[i];
  const st={fill:f,stroke:b,lineWidth:.8};
  if(k==='circle') g.push({type:'circle',z:20,silent:true,shape:{cx:x,cy:lgY[i],r},style:st});
  else if(k==='rect') g.push({type:'rect',z:20,silent:true,shape:{x:x-r,y:lgY[i]-r,width:2*r,height:2*r},style:st});
  else {
   const y=lgY[i];
   const pts=k==='triangle'?[[x,y-r],[x+r,y+r*.8],[x-r,y+r*.8]]:k==='vtri'?[[x,y+r],[x+r,y-r*.8],[x-r,y-r*.8]]:[[x,y-r],[x+r,y],[x,y+r],[x-r,y]];
   g.push({type:'polygon',z:20,silent:true,shape:{points:pts},style:st});
  }
 });
});

const chart=echarts.init(document.getElementById('c'),null,{renderer:'canvas'});
chart.setOption({animation:false,backgroundColor:'#fff',tooltip:{show:false},legend:{show:false},grid,xAxis,yAxis,series,graphic:{elements:g}});
</script></body></html>
